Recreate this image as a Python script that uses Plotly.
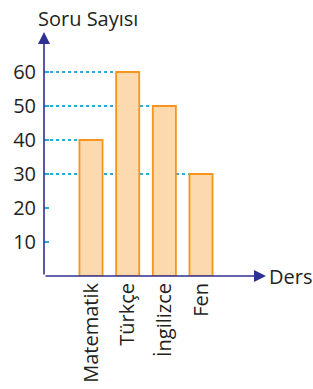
import plotly.graph_objects as go

categories = ["Matematik", "Türkçe", "İngilizce", "Fen"]
values = [40, 60, 50, 30]
y_ticks = [10, 20, 30, 40, 50, 60]
y_title = "Soru Sayısı"
x_title = "Ders"

W, H = 313, 389
ML, MR, MT, MB = 44, 47, 32, 113
bar_width = 0.63
x_range = [-1.282, 4.772]
y_range = [0, 71.76]

axis_color = "#2e3192"
dot_color = "#29abe2"
fill_color = "#fdd9b0"
edge_color = "#f7941d"
text_color = "#231f20"
font_family = "Open Sans"

xs = list(range(len(categories)))

fig = go.Figure()
fig.add_trace(go.Bar(
    x=xs, y=values, width=bar_width,
    marker=dict(color=fill_color, line=dict(color=edge_color, width=1.8)),
    hoverinfo="skip",
))

# dotted guide lines from the y axis to the left edge of each bar
for x, v in zip(xs, values):
    fig.add_shape(type="line", layer="below",
                  xref="x", yref="y",
                  x0=x_range[0], x1=x - bar_width / 2, y0=v, y1=v,
                  line=dict(color=dot_color, width=2, dash="3px,3px"))

# axes as arrows
fig.add_annotation(xref="paper", yref="paper", x=0, y=1, ax=0, ay=(H - MT - MB),
                   axref="pixel", ayref="pixel", text="", showarrow=True,
                   arrowhead=2, arrowsize=1.5, arrowwidth=1.6, arrowcolor=axis_color)
fig.add_annotation(xref="paper", yref="paper", x=1, y=0, ax=-(W - ML - MR), ay=0,
                   axref="pixel", ayref="pixel", text="", showarrow=True,
                   arrowhead=2, arrowsize=1.5, arrowwidth=1.6, arrowcolor=axis_color)

fig.add_annotation(xref="paper", yref="paper", x=(88 - ML) / (W - ML - MR),
                   y=1 + 14 / (H - MT - MB), text=y_title, showarrow=False,
                   xanchor="center", yanchor="middle",
                   font=dict(family=font_family, size=20, color=text_color))
fig.add_annotation(xref="paper", yref="paper", x=1, xshift=1, y=0,
                   text=x_title, showarrow=False, xanchor="left", yanchor="middle",
                   font=dict(family=font_family, size=20, color=text_color))

fig.update_layout(
    width=W, height=H,
    margin=dict(l=ML, r=MR, t=MT, b=MB, pad=0, autoexpand=False),
    paper_bgcolor="white", plot_bgcolor="rgba(0,0,0,0)",
    showlegend=False,
    font=dict(family=font_family, size=20, color=text_color),
)
fig.update_xaxes(range=x_range, tickvals=xs, ticktext=categories, tickangle=-90,
                 showgrid=False, zeroline=False, showline=False, automargin=False,
                 ticks="", ticklabelstandoff=2,
                 tickfont=dict(family=font_family, size=20, color=text_color),
                 fixedrange=True)
fig.update_yaxes(range=y_range, tickvals=y_ticks, showgrid=False, zeroline=False,
                 showline=False, automargin=False, ticks="inside", ticklen=5, tickwidth=2,
                 tickcolor=dot_color, ticklabelstandoff=7,
                 tickfont=dict(family=font_family, size=20, color=text_color),
                 fixedrange=True)

fig.write_html("out.html", config={"displayModeBar": False},
               post_script="document.body.style.margin='0';document.body.style.padding='0';")
